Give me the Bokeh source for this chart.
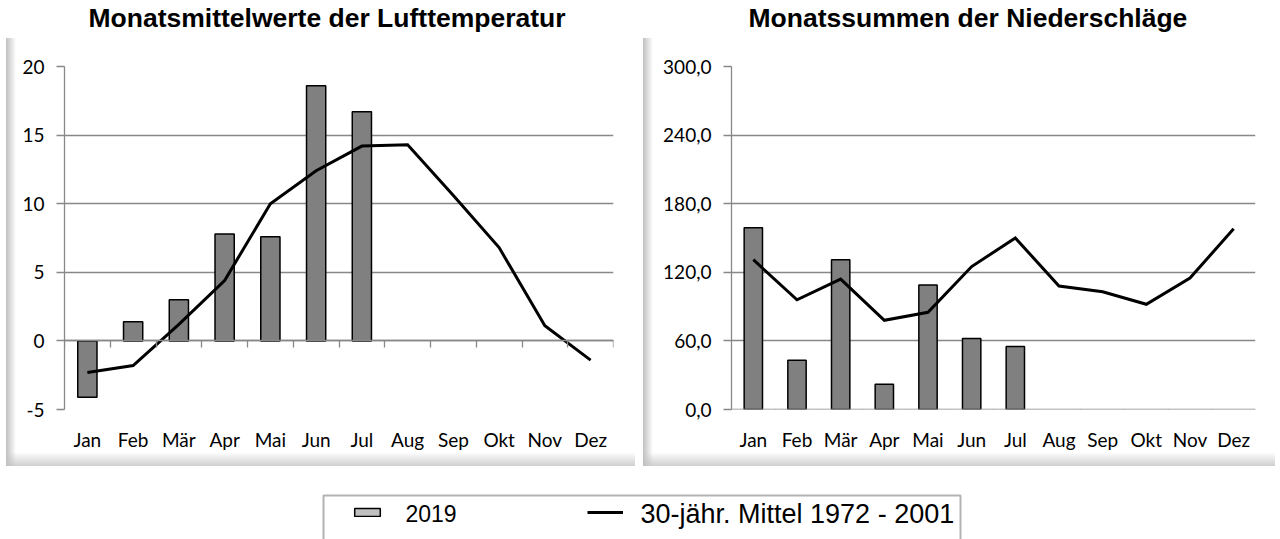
from bokeh.plotting import figure
from bokeh.models import (FactorRange, Range1d, LinearAxis, CategoricalAxis, FixedTicker,
                          Grid, Legend, LegendItem, Label, BoxAnnotation, CustomJSTickFormatter,
                          Title)
from bokeh.layouts import column, row
from bokeh.embed import file_html
from bokeh.resources import INLINE

# ---------------- data ----------------
months = ["Jan", "Feb", "Mär", "Apr", "Mai", "Jun", "Jul", "Aug", "Sep", "Okt", "Nov", "Dez"]
temp_2019 = [-4.1, 1.4, 3.0, 7.8, 7.6, 18.6, 16.7]
temp_mean = [-2.3, -1.8, 1.2, 4.4, 10.0, 12.4, 14.2, 14.3, 10.6, 6.8, 1.1, -1.4]
precip_2019 = [159, 43, 131, 22, 109, 62, 55]
precip_mean = [131, 96, 114, 78, 85, 125, 150, 108, 103, 92, 115, 158]
temp_ticks = [-5, 0, 5, 10, 15, 20]
precip_ticks = [0, 60, 120, 180, 240, 300]
title_temp = "Monatsmittelwerte der Lufttemperatur"
title_precip = "Monatssummen der Niederschläge"
legend_bar_label = "2019"
legend_line_label = "30-jähr. Mittel 1972 - 2001"

# ---------------- style ----------------
GRID = "#888888"
BAR = "#808080"
TICK_FONT = "Lato"
TICK_SIZE = "19px"
FIG_W, FIG_H = 640, 470
BORDER_TOP, BORDER_BOTTOM = 66, 61


def shadow_css(x0):
    return {
        "background": (
            f"linear-gradient(to right, #c0c0c0, rgba(255,255,255,0)) {x0}px 38px / 10px 428px no-repeat, "
            f"linear-gradient(to bottom, rgba(255,255,255,0), #cfcfcf) {x0}px 452px / {635 - x0}px 14px no-repeat, "
            "#ffffff"
        )
    }


def chart(title, y0, y1, ticks, fmt_code, vals_2019, vals_mean, bl, br, toff, x0):
    p = figure(width=FIG_W, height=FIG_H,
               x_range=FactorRange(factors=months, range_padding=0),
               y_range=Range1d(y0, y1),
               output_backend="svg", toolbar_location=None,
               x_axis_location=None, y_axis_location=None,
               min_border_left=bl, min_border_right=br,
               min_border_top=BORDER_TOP, min_border_bottom=BORDER_BOTTOM)
    p.center = []
    p.border_fill_color = None
    p.background_fill_color = "white"
    p.outline_line_color = None
    p.styles = shadow_css(x0)

    p.title.text = title
    p.title.align = "left"
    p.title.offset = toff
    p.title.standoff = 0
    p.title.text_font = "Liberation Sans"
    p.title.text_font_style = "bold"
    p.title.text_font_size = "26.5px"
    p.title.text_color = "black"
    # empty spacer between title and plot area
    p.add_layout(Title(text=" ", text_font_size="14px", standoff=16), "above")

    yax = LinearAxis(ticker=FixedTicker(ticks=ticks),
                     formatter=CustomJSTickFormatter(code=fmt_code),
                     major_tick_in=0, major_tick_out=8,
                     major_tick_line_color=GRID, major_tick_line_width=1.3,
                     minor_tick_line_color=None,
                     axis_line_color=GRID, axis_line_width=1.3,
                     major_label_standoff=12,
                     major_label_text_font=TICK_FONT,
                     major_label_text_font_size=TICK_SIZE,
                     major_label_text_color="black")
    p.add_layout(yax, "left")
    p.add_layout(Grid(dimension=1, ticker=yax.ticker,
                      grid_line_color=GRID, grid_line_width=1.3))

    xlab = CategoricalAxis(major_tick_line_color=None, axis_line_color=None,
                           major_label_standoff=12,
                           major_label_text_font=TICK_FONT,
                           major_label_text_font_size=TICK_SIZE,
                           major_label_text_color="black")
    p.add_layout(xlab, "below")

    # tick marks at the category boundaries (synthetic coordinates 0..12)
    xt = LinearAxis(fixed_location=0,
                    ticker=FixedTicker(ticks=list(range(len(months) + 1))),
                    formatter=CustomJSTickFormatter(code="return ''"),
                    major_tick_in=0, major_tick_out=7,
                    major_tick_line_color=GRID, major_tick_line_width=1.3,
                    minor_tick_line_color=None,
                    axis_line_color=GRID, axis_line_width=1.3)
    p.add_layout(xt, "below")

    p.vbar(x=months[:len(vals_2019)], top=vals_2019, bottom=0, width=0.42,
           fill_color=BAR, line_color="black", line_width=1.5)
    p.line(x=months, y=vals_mean, line_color="black", line_width=3, line_join="miter")
    return p


p_temp = chart(title_temp, -5, 20, temp_ticks, "return tick.toFixed(0)",
               temp_2019, temp_mean, 64, 27, 24, 6)
p_prec = chart(title_precip, 0, 300, precip_ticks, "return tick.toFixed(1).replace('.', ',')",
               precip_2019, precip_mean, 91, 25, 17, 3)

# ---------------- legend strip ----------------
LG_H = 69
lg = figure(width=2 * FIG_W, height=LG_H,
            x_range=FactorRange(factors=months), y_range=Range1d(-2, -1),
            output_backend="svg", toolbar_location=None,
            x_axis_location=None, y_axis_location=None, min_border=0)
lg.center = []
lg.border_fill_color = None
lg.background_fill_color = None
lg.outline_line_color = None

# renderers only used for the legend swatches (their data lies outside the visible range)
r_bar = lg.rect(x=months[:len(precip_2019)], y=precip_2019, width=0.42, height=precip_2019,
                fill_color="#c0c0c0", line_color="black", line_width=1.5)
r_line = lg.line(x=months, y=precip_mean, line_color="black", line_width=3)

box = BoxAnnotation(left=323, right=960, top=44, bottom=-20,
                    left_units="screen", right_units="screen",
                    top_units="screen", bottom_units="screen",
                    fill_color="white", fill_alpha=1.0,
                    line_color="black", line_width=2)
lg.add_layout(box)

common = dict(padding=0, margin=0, spacing=0, label_standoff=0, label_width=0,
              label_height=0, glyph_height=10, border_line_color=None,
              background_fill_alpha=0, label_text_font_size="1px",
              label_text_alpha=0)
leg_bar = Legend(items=[LegendItem(label=" ", renderers=[r_bar])],
                 location=(351, 22), glyph_width=32, **common)
leg_line = Legend(items=[LegendItem(label=" ", renderers=[r_line])],
                  location=(587, 22), glyph_width=36, **common)
lg.add_layout(leg_bar)
lg.add_layout(leg_line)

LEG_FONT = "Liberation Sans"
lg.add_layout(Label(x=405, y=26, x_units="screen", y_units="screen", text=legend_bar_label,
                    text_font=LEG_FONT, text_font_size="23px", text_baseline="middle",
                    text_color="black"))
lg.add_layout(Label(x=640, y=26, x_units="screen", y_units="screen", text=legend_line_label,
                    text_font=LEG_FONT, text_font_size="27px", text_baseline="middle",
                    text_color="black"))

layout = column(row(p_temp, p_prec), lg)
open("out.html", "w").write(file_html(layout, INLINE))
